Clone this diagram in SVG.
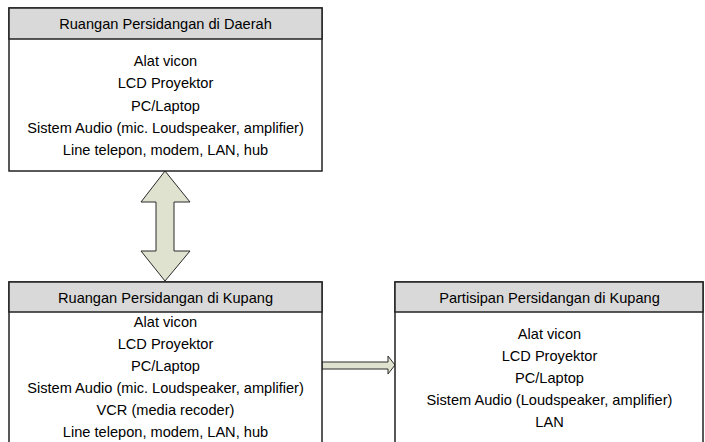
<svg xmlns="http://www.w3.org/2000/svg" width="705" height="442" viewBox="0 0 705 442">
<style>
.box{fill:#ffffff;stroke:#222222;stroke-width:1.5}
.hdr{fill:#d9d9d9;stroke:#222222;stroke-width:1.5}
.t{font-family:"Liberation Sans",Arial,sans-serif;font-size:14.6px;fill:#000000;text-anchor:middle}
.arr{fill:#dfe2cf;stroke:#2a2a2a;stroke-width:1}
</style>
<rect x="0" y="0" width="705" height="442" fill="#ffffff"/>
<g id="connectors">
<polygon class="arr" points="165,171 190,202 174,202 174,251 190,251 165,281 141,251 156,251 156,202 141,202"/>
<polygon class="arr" points="322,362 388,362 388,356 395,365 388,374 388,369 322,369"/>
</g>
<g id="daerah">
<rect class="box" x="9" y="8" width="313" height="163"/>
<rect class="hdr" x="9" y="8" width="313" height="31"/>
<text class="t" x="165.5" y="29">Ruangan Persidangan di Daerah</text>
<text class="t" x="165.5" y="66">Alat vicon</text>
<text class="t" x="165.5" y="88">LCD Proyektor</text>
<text class="t" x="165.5" y="110.5">PC/Laptop</text>
<text class="t" x="165.5" y="133">Sistem Audio (mic. Loudspeaker, amplifier)</text>
<text class="t" x="165.5" y="155">Line telepon, modem, LAN, hub</text>
</g>
<g id="kupang">
<rect class="box" x="9" y="282" width="313" height="180"/>
<rect class="hdr" x="9" y="282" width="313" height="30"/>
<text class="t" x="165.5" y="303">Ruangan Persidangan di Kupang</text>
<text class="t" x="165.5" y="327">Alat vicon</text>
<text class="t" x="165.5" y="349">LCD Proyektor</text>
<text class="t" x="165.5" y="371">PC/Laptop</text>
<text class="t" x="165.5" y="393">Sistem Audio (mic. Loudspeaker, amplifier)</text>
<text class="t" x="165.5" y="415">VCR (media recoder)</text>
<text class="t" x="165.5" y="437">Line telepon, modem, LAN, hub</text>
</g>
<g id="partisipan">
<rect class="box" x="395" y="282" width="308" height="180"/>
<rect class="hdr" x="395" y="282" width="308" height="30"/>
<text class="t" x="549.5" y="303">Partisipan Persidangan di Kupang</text>
<text class="t" x="549.5" y="339">Alat vicon</text>
<text class="t" x="549.5" y="361">LCD Proyektor</text>
<text class="t" x="549.5" y="383">PC/Laptop</text>
<text class="t" x="549.5" y="405">Sistem Audio (Loudspeaker, amplifier)</text>
<text class="t" x="549.5" y="427">LAN</text>
</g>
</svg>
